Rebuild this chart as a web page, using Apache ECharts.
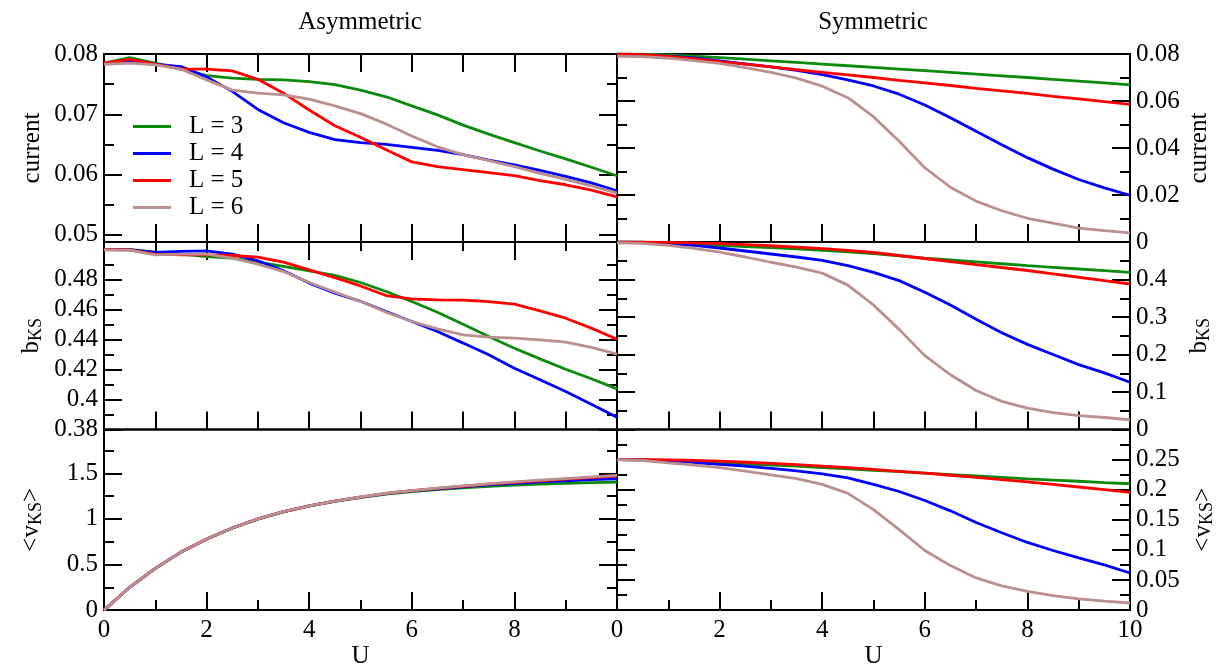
<!DOCTYPE html>
<html>
<head>
<meta charset="utf-8">
<script src="https://cdn.jsdelivr.net/npm/echarts@6/dist/echarts.min.js"></script>
<style>html,body{margin:0;padding:0;background:#fff}#c{width:1219px;height:670px}</style>
</head>
<body>
<div id="c"></div>
<script>
// ---------- data ----------
const U = [0,0.5,1,1.5,2,2.5,3,3.5,4,4.5,5,5.5,6,6.5,7,7.5,8,8.5,9,9.5,10];
const seriesNames = ['L = 3','L = 4','L = 5','L = 6'];
const colors = ['#0b8a0b','#0000ff','#ff0000','#bc8f8f'];

// Asymmetric: current
const asymCurL3 = [0.0785,0.0794,0.0785,0.0775,0.0764,0.0760,0.0758,0.0757,0.0754,0.0749,0.0740,0.0729,0.0714,0.0699,0.0682,0.0667,0.0653,0.0639,0.0626,0.0612,0.0598];
const asymCurL4 = [0.0785,0.0787,0.0783,0.0779,0.0762,0.0738,0.0708,0.0686,0.0670,0.0658,0.0653,0.0650,0.0645,0.0640,0.0633,0.0624,0.0616,0.0607,0.0597,0.0586,0.0573];
const asymCurL5 = [0.0785,0.0791,0.0783,0.0775,0.0775,0.0772,0.0758,0.0735,0.0707,0.0681,0.0662,0.0641,0.0621,0.0613,0.0608,0.0603,0.0598,0.0590,0.0583,0.0574,0.0563];
const asymCurL6 = [0.0783,0.0785,0.0782,0.0775,0.0757,0.0740,0.0735,0.0732,0.0725,0.0714,0.0701,0.0684,0.0664,0.0646,0.0633,0.0623,0.0613,0.0602,0.0592,0.0581,0.0569];
// Asymmetric: b_KS
const asymBL3 = [0.5000,0.5000,0.4982,0.4969,0.4953,0.4942,0.4916,0.4887,0.4858,0.4827,0.4780,0.4720,0.4653,0.4582,0.4502,0.4420,0.4342,0.4271,0.4202,0.4138,0.4071];
const asymBL4 = [0.5000,0.4998,0.4980,0.4987,0.4991,0.4969,0.4924,0.4858,0.4776,0.4709,0.4655,0.4587,0.4520,0.4453,0.4376,0.4298,0.4209,0.4131,0.4053,0.3969,0.3882];
const asymBL5 = [0.5000,0.4998,0.4969,0.4964,0.4964,0.4960,0.4949,0.4916,0.4864,0.4813,0.4757,0.4693,0.4671,0.4664,0.4662,0.4653,0.4636,0.4591,0.4542,0.4476,0.4402];
const asymBL6 = [0.4998,0.4996,0.4964,0.4969,0.4969,0.4942,0.4902,0.4853,0.4780,0.4716,0.4655,0.4582,0.4520,0.4471,0.4431,0.4416,0.4409,0.4398,0.4382,0.4347,0.4302];
// Asymmetric: <v_KS>
const asymVL3 = [0,0.250,0.457,0.636,0.778,0.898,0.997,1.076,1.140,1.192,1.234,1.272,1.300,1.322,1.340,1.356,1.370,1.381,1.390,1.398,1.404];
const asymVL4 = [0,0.250,0.457,0.636,0.779,0.900,1.000,1.079,1.143,1.196,1.239,1.277,1.306,1.330,1.352,1.372,1.390,1.405,1.418,1.430,1.440];
const asymVL5 = [0,0.250,0.457,0.636,0.779,0.900,1.000,1.079,1.143,1.196,1.239,1.279,1.309,1.335,1.358,1.380,1.400,1.418,1.435,1.452,1.468];
const asymVL6 = [0,0.250,0.457,0.636,0.779,0.900,1.000,1.079,1.143,1.196,1.240,1.281,1.310,1.337,1.361,1.384,1.405,1.424,1.442,1.460,1.476];
// Symmetric: current
const symCurL3 = [0.0800,0.0799,0.0796,0.0791,0.0785,0.0778,0.0771,0.0764,0.0757,0.0750,0.0743,0.0736,0.0729,0.0722,0.0714,0.0707,0.0700,0.0692,0.0685,0.0677,0.0669];
const symCurL4 = [0.0797,0.0796,0.0791,0.0783,0.0771,0.0758,0.0745,0.0730,0.0712,0.0690,0.0664,0.0629,0.0583,0.0529,0.0471,0.0414,0.0359,0.0310,0.0266,0.0230,0.0199];
const symCurL5 = [0.0800,0.0797,0.0790,0.0780,0.0768,0.0757,0.0745,0.0733,0.0722,0.0711,0.0700,0.0688,0.0677,0.0666,0.0654,0.0643,0.0632,0.0620,0.0609,0.0597,0.0586];
const symCurL6 = [0.0790,0.0789,0.0782,0.0772,0.0760,0.0742,0.0722,0.0697,0.0663,0.0614,0.0533,0.0429,0.0316,0.0233,0.0174,0.0133,0.0101,0.0080,0.0059,0.0048,0.0039];
// Symmetric: b_KS
const symBL3 = [0.5000,0.4994,0.4977,0.4949,0.4910,0.4880,0.4850,0.4815,0.4780,0.4735,0.4690,0.4630,0.4570,0.4520,0.4470,0.4420,0.4370,0.4325,0.4280,0.4235,0.4190];
const symBL4 = [0.5000,0.4993,0.4960,0.4910,0.4840,0.4760,0.4680,0.4600,0.4510,0.4370,0.4190,0.3970,0.3660,0.3320,0.2940,0.2580,0.2270,0.2000,0.1730,0.1510,0.1260];
const symBL5 = [0.5000,0.4998,0.4990,0.4975,0.4955,0.4930,0.4900,0.4865,0.4825,0.4775,0.4720,0.4640,0.4560,0.4475,0.4395,0.4320,0.4240,0.4150,0.4060,0.3970,0.3880];
const symBL6 = [0.4980,0.4965,0.4910,0.4830,0.4730,0.4600,0.4460,0.4330,0.4170,0.3850,0.3320,0.2670,0.1970,0.1460,0.1040,0.0750,0.0570,0.0450,0.0370,0.0320,0.0260];
// Symmetric: <v_KS>
const symVL3 = [0.2500,0.2497,0.2487,0.2470,0.2450,0.2430,0.2410,0.2390,0.2368,0.2345,0.2322,0.2299,0.2276,0.2252,0.2228,0.2204,0.2180,0.2160,0.2140,0.2119,0.2099];
const symVL4 = [0.2500,0.2494,0.2478,0.2452,0.2420,0.2390,0.2355,0.2312,0.2264,0.2195,0.2088,0.1970,0.1820,0.1649,0.1456,0.1285,0.1124,0.0990,0.0867,0.0750,0.0616];
const symVL5 = [0.2500,0.2499,0.2495,0.2486,0.2473,0.2456,0.2437,0.2416,0.2393,0.2365,0.2336,0.2306,0.2275,0.2240,0.2205,0.2169,0.2131,0.2089,0.2045,0.2000,0.1954];
const symVL6 = [0.2500,0.2485,0.2446,0.2410,0.2366,0.2310,0.2248,0.2184,0.2088,0.1938,0.1670,0.1338,0.0990,0.0739,0.0535,0.0401,0.0310,0.0241,0.0187,0.0150,0.0118];

// tick values / labels
const xMajor = [0,2,4,6,8,10];
const xMinor = [1,3,5,7,9];
const xEvery = [1,2,3,4,5,6,7,8,9];
const xLabelsLeft = [0,2,4,6,8];
const xLabelsRight = [0,2,4,6,8,10];

const yCurAsymMajor = [0.05,0.06,0.07,0.08];
const yCurAsymMinor = [0.055,0.065,0.075];
const yBAsymMajor = [0.38,0.40,0.42,0.44,0.46,0.48];
const yBAsymMinor = [0.39,0.41,0.43,0.45,0.47,0.49];
const yVAsymMajor = [0,0.5,1,1.5];
const yVAsymMinor = [0.25,0.75,1.25,1.75];
const yCurSymMajor = [0,0.02,0.04,0.06,0.08];
const yCurSymMinor = [0.01,0.03,0.05,0.07];
const yBSymMajor = [0,0.1,0.2,0.3,0.4];
const yBSymMinor = [0.05,0.15,0.25,0.35,0.45];
const yVSymMajor = [0,0.05,0.1,0.15,0.2,0.25];
const yVSymMinor = [0.025,0.075,0.125,0.175,0.225,0.275];

const titleLeft = 'Asymmetric';
const titleRight = 'Symmetric';
const nameCurrent = 'current';
const nameB = '{b|b}{s|KS}';
const nameV = '{b|<v}{s|KS}{b|>}';
const nameU = 'U';

// ---------- layout ----------
const FONT = '"Liberation Serif","Times New Roman",serif';
const FS = 25;
const colLeft = [104, 617];
const colW = 513;
const rowTop = [54, 242, 429.5];
const rowH = [188, 187.5, 187.5];

const panels = [
  {col:0,row:0,min:0.0488,max:0.08,maj:yCurAsymMajor,mnr:yCurAsymMinor,name:nameCurrent,data:[asymCurL3,asymCurL4,asymCurL5,asymCurL6],xTop:'every',xBot:'every'},
  {col:1,row:0,min:0,max:0.08,maj:yCurSymMajor,mnr:yCurSymMinor,name:nameCurrent,data:[symCurL3,symCurL4,symCurL5,symCurL6],xTop:'none',xBot:'every'},
  {col:0,row:1,min:0.38,max:0.505,maj:yBAsymMajor,mnr:yBAsymMinor,name:nameB,data:[asymBL3,asymBL4,asymBL5,asymBL6],xTop:'majmin',xBot:'every'},
  {col:1,row:1,min:0,max:0.5,maj:yBSymMajor,mnr:yBSymMinor,name:nameB,data:[symBL3,symBL4,symBL5,symBL6],xTop:'none',xBot:'every'},
  {col:0,row:2,min:0,max:1.98,maj:yVAsymMajor,mnr:yVAsymMinor,name:nameV,data:[asymVL3,asymVL4,asymVL5,asymVL6],xTop:'none',xBot:'majmin',xLab:xLabelsLeft},
  {col:1,row:2,min:0,max:0.3,maj:yVSymMajor,mnr:yVSymMinor,name:nameV,data:[symVL3,symVL4,symVL5,symVL6],xTop:'none',xBot:'majmin',xLab:xLabelsRight}
];

const nameStyle = {
  fontFamily: FONT, fontSize: FS, color: '#000',
  rich: {
    b: {fontFamily: FONT, fontSize: FS, color: '#000', lineHeight: 26, verticalAlign: 'top'},
    s: {fontFamily: FONT, fontSize: 18, color: '#000', lineHeight: 18, padding: [15,0,0,0], verticalAlign: 'bottom'}
  }
};
const tickLine = {color: '#000', width: 2};
const labelStyle = {color: '#000', fontFamily: FONT, fontSize: FS};

const grids = [], xAxes = [], yAxes = [], series = [];

panels.forEach((p, gi) => {
  grids.push({left: colLeft[p.col], top: rowTop[p.row], width: colW, height: rowH[p.row],
    show: true, borderColor: '#000', borderWidth: 2, backgroundColor: 'rgba(0,0,0,0)'});

  const mkX = (position, ticks, len, labels, name) => ({
    type: 'value', gridIndex: gi, position, min: 0, max: 10,
    axisLine: {show: false, onZero: false}, splitLine: {show: false},
    axisTick: ticks ? {show: true, inside: true, length: len, customValues: ticks, lineStyle: tickLine} : {show: false},
    axisLabel: labels ? Object.assign({show: true, customValues: labels, margin: 8}, labelStyle) : {show: false},
    name: name || '', nameLocation: 'middle', nameGap: 33,
    nameTextStyle: {fontFamily: FONT, fontSize: FS, color: '#000'}
  });
  const xIdx = xAxes.length;
  if (p.xBot === 'every') {
    xAxes.push(mkX('bottom', xEvery, 18, null));
  } else {
    xAxes.push(mkX('bottom', xMajor, 18, p.xLab, nameU));
    xAxes.push(mkX('bottom', xMinor, 10, null));
  }
  if (p.xTop === 'every') xAxes.push(mkX('top', xEvery, 18, null));
  if (p.xTop === 'majmin') { xAxes.push(mkX('top', xMajor, 18, null)); xAxes.push(mkX('top', xMinor, 9, null)); }

  const mkY = (position, ticks, len, labels, name) => ({
    type: 'value', gridIndex: gi, position, min: p.min, max: p.max,
    axisLine: {show: false, onZero: false}, splitLine: {show: false},
    axisTick: {show: true, inside: true, length: len, customValues: ticks, lineStyle: tickLine},
    axisLabel: labels ? Object.assign({show: true, customValues: labels, margin: 6}, labelStyle) : {show: false},
    name: name || '', nameLocation: 'middle', nameRotate: 90,
    nameGap: position === 'left' ? 59 : 57,
    nameTextStyle: nameStyle
  });
  const yIdx = yAxes.length;
  const labelSide = p.col === 0 ? 'left' : 'right';
  yAxes.push(mkY(labelSide, p.maj, 18, p.maj, p.name));
  yAxes.push(mkY(labelSide, p.mnr, 10, null));
  const other = p.col === 0 ? 'right' : 'left';
  yAxes.push(mkY(other, p.maj, 18, null));
  yAxes.push(mkY(other, p.mnr, 10, null));

  p.data.forEach((arr, si) => {
    series.push({
      type: 'line', name: seriesNames[si], xAxisIndex: xIdx, yAxisIndex: yIdx,
      data: U.map((u, k) => [u, arr[k]]),
      symbol: 'none', smooth: false, color: colors[si],
      lineStyle: {color: colors[si], width: 2.8}, z: 2 + si
    });
  });
});

const chart = echarts.init(document.getElementById('c'), null, {renderer: 'canvas'});
chart.setOption({
  animation: false,
  backgroundColor: '#fff',
  grid: grids, xAxis: xAxes, yAxis: yAxes, series,
  legend: {
    data: seriesNames, orient: 'vertical', left: 128, top: 108,
    icon: 'rect', itemWidth: 38, itemHeight: 3, itemGap: 0,
    textStyle: {fontFamily: FONT, fontSize: FS, color: '#000', lineHeight: 27, padding: [0,0,0,13]}
  },
  graphic: [
    {type: 'text', x: 360, y: 22, style: {text: titleLeft, font: FS + 'px ' + FONT, fill: '#000', textAlign: 'center', textVerticalAlign: 'middle'}},
    {type: 'text', x: 873, y: 22, style: {text: titleRight, font: FS + 'px ' + FONT, fill: '#000', textAlign: 'center', textVerticalAlign: 'middle'}}
  ]
});
</script>
</body>
</html>
